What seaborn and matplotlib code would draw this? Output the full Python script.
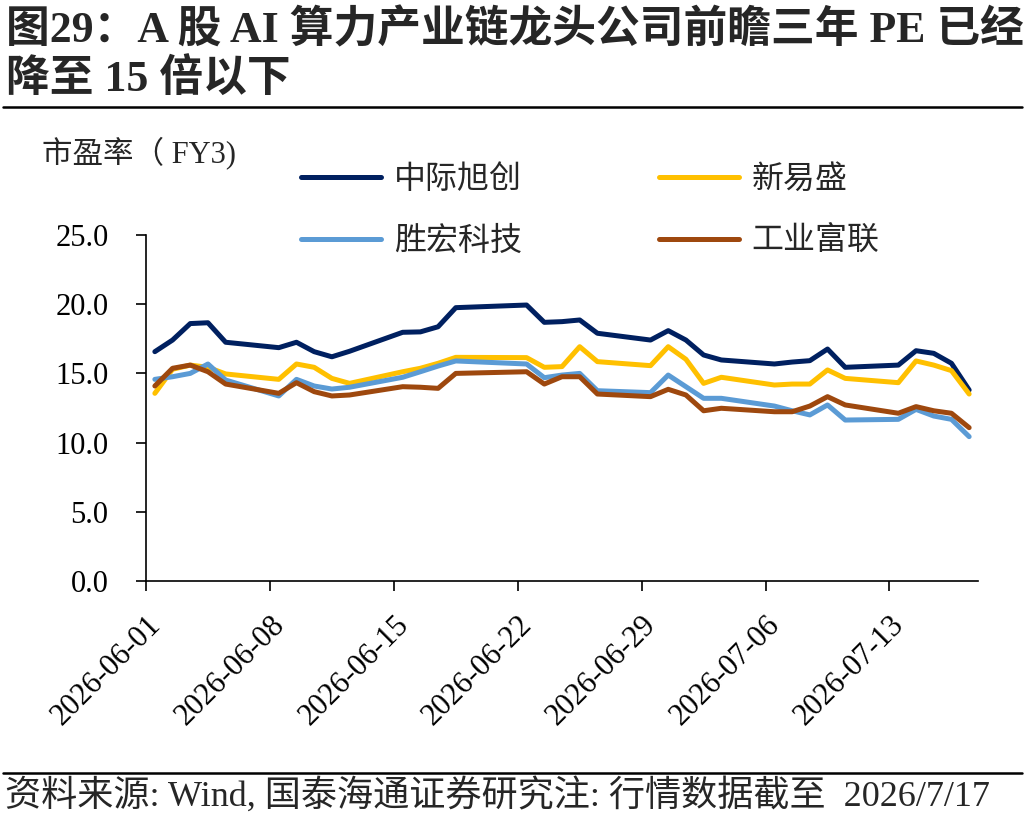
import pandas as pd
import matplotlib
matplotlib.use('Agg')
import matplotlib.pyplot as plt
import matplotlib.dates as mdates
from matplotlib.lines import Line2D
from matplotlib.ticker import FormatStrFormatter
import seaborn as sns

# --- DATA ---
dates = ['2026-06-01', '2026-06-02', '2026-06-03', '2026-06-04', '2026-06-05',
         '2026-06-08', '2026-06-09', '2026-06-10', '2026-06-11', '2026-06-12',
         '2026-06-15', '2026-06-16', '2026-06-17', '2026-06-18',
         '2026-06-22', '2026-06-23', '2026-06-24', '2026-06-25', '2026-06-26',
         '2026-06-29', '2026-06-30', '2026-07-01', '2026-07-02', '2026-07-03',
         '2026-07-06', '2026-07-07', '2026-07-08', '2026-07-09', '2026-07-10',
         '2026-07-13', '2026-07-14', '2026-07-15', '2026-07-16', '2026-07-17']

zhongji = [16.57, 17.41, 18.60, 18.66, 17.25, 16.86, 17.25, 16.57, 16.20, 16.60,
           17.97, 18.00, 18.37, 19.75, 19.94, 18.69, 18.74, 18.86, 17.90,
           17.41, 18.09, 17.41, 16.33, 15.97, 15.68, 15.82, 15.92, 16.76, 15.44,
           15.60, 16.64, 16.45, 15.73, 13.80]
xinyi = [13.56, 15.30, 15.60, 15.44, 14.96, 14.57, 15.68, 15.44, 14.64, 14.28,
         15.12, 15.37, 15.73, 16.16, 16.14, 15.44, 15.49, 16.93, 15.85,
         15.56, 16.93, 16.02, 14.28, 14.72, 14.16, 14.23, 14.23, 15.25, 14.64,
         14.33, 15.90, 15.60, 15.20, 13.51]
shenghong = [14.57, 14.76, 15.00, 15.68, 14.52, 13.37, 14.57, 14.09, 13.87, 14.00,
             14.72, 15.12, 15.53, 15.90, 15.68, 14.69, 14.88, 15.00, 13.75,
             13.61, 14.88, 14.04, 13.20, 13.20, 12.64, 12.30, 12.00, 12.72, 11.63,
             11.68, 12.40, 11.92, 11.68, 10.43]
gongye = [14.09, 15.37, 15.60, 15.12, 14.23, 13.56, 14.33, 13.68, 13.37, 13.44,
          14.04, 14.00, 13.92, 15.00, 15.12, 14.23, 14.76, 14.76, 13.51,
          13.32, 13.85, 13.44, 12.30, 12.48, 12.23, 12.23, 12.64, 13.32, 12.72,
          12.12, 12.60, 12.30, 12.12, 11.08]

names = ['中际旭创', '新易盛', '胜宏科技', '工业富联']
colors = ['#002060', '#FFC000', '#5B9BD5', '#9E480E']
y_ticks = [0, 5, 10, 15, 20, 25]

title_1 = '图29：A 股 AI 算力产业链龙头公司前瞻三年 PE 已经'
title_2 = '降至 15 倍以下'
y_label = '市盈率（ FY3)'
source = '资料来源: Wind, 国泰海通证券研究注: 行情数据截至  2026/7/17'

# --- BUILD TABLE ---
frames = []
for name, vals in zip(names, [zhongji, xinyi, shenghong, gongye]):
    frames.append(pd.DataFrame({
        'date': pd.to_datetime(dates) + pd.Timedelta(hours=12),  # points sit mid-day
        'pe': vals,
        'name': name,
    }))
data = pd.concat(frames, ignore_index=True)

# --- STYLE ---
sns.set_style('ticks')
fonts = ['Liberation Serif', 'Noto Sans CJK SC']
plt.rcParams['font.family'] = fonts

fig = plt.figure(figsize=(10.26, 8.19), dpi=100)
ax = fig.add_axes([146 / 1026, 1 - 581 / 819, (978 - 146) / 1026, (581 - 235) / 819])

sns.lineplot(data=data, x='date', y='pe', hue='name', hue_order=names,
             palette=dict(zip(names, colors)), linewidth=3.6, ax=ax, legend=False)

# --- AXES ---
ax.set_ylim(0, 25)
ax.set_yticks(y_ticks)
ax.yaxis.set_major_formatter(FormatStrFormatter('%.1f'))
ax.set_xlim(pd.Timestamp('2026-06-01'), pd.Timestamp('2026-07-18'))
ax.xaxis.set_major_locator(mdates.WeekdayLocator(byweekday=mdates.MO))
ax.xaxis.set_major_formatter(mdates.DateFormatter('%Y-%m-%d'))
ax.set_xlabel('')
ax.set_ylabel('')
for side in ['top', 'right']:
    ax.spines[side].set_visible(False)
for side in ['left', 'bottom']:
    ax.spines[side].set_linewidth(1.2)
    ax.spines[side].set_color('black')
ax.tick_params(axis='both', direction='out', length=7, width=1.2, colors='black', labelsize=22)
ax.tick_params(axis='y', pad=20)
ax.tick_params(axis='x', pad=14)
for lab in ax.get_xticklabels():
    lab.set_rotation(45)
    lab.set_ha('right')
    lab.set_va('top')
    lab.set_rotation_mode('anchor')

# --- LEGEND ---
lines = ax.get_lines()
order = [0, 2, 1, 3]
fig.legend([lines[i] for i in order], [names[i] for i in order], ncol=2,
           loc='upper left', bbox_to_anchor=(301 / 1026, 1 - 165 / 819),
           frameon=False, fontsize=23, handlelength=2.5, handletextpad=0.4,
           columnspacing=4.3, labelspacing=1.0, borderpad=0, borderaxespad=0)

# --- TEXTS ---
fig.text(42 / 1026, 1 - 153 / 819, y_label, fontsize=22, va='center', ha='left')
fig.text(6 / 1026, 1 - 30 / 819, title_1, fontsize=31.5, fontweight='bold', va='center', ha='left')
fig.text(6 / 1026, 1 - 80 / 819, title_2, fontsize=31.5, fontweight='bold', va='center', ha='left')
fig.add_artist(Line2D([3 / 1026, 1022 / 1026], [1 - 107 / 819] * 2, lw=1.8, color='black',
                      transform=fig.transFigure))
fig.add_artist(Line2D([3 / 1026, 1022 / 1026], [1 - 773 / 819] * 2, lw=1.8, color='black',
                      transform=fig.transFigure))
fig.text(5 / 1026, 1 - 796 / 819, source, fontsize=26, va='center', ha='left')

fig.savefig('out.png', dpi=100)
plt.close()
